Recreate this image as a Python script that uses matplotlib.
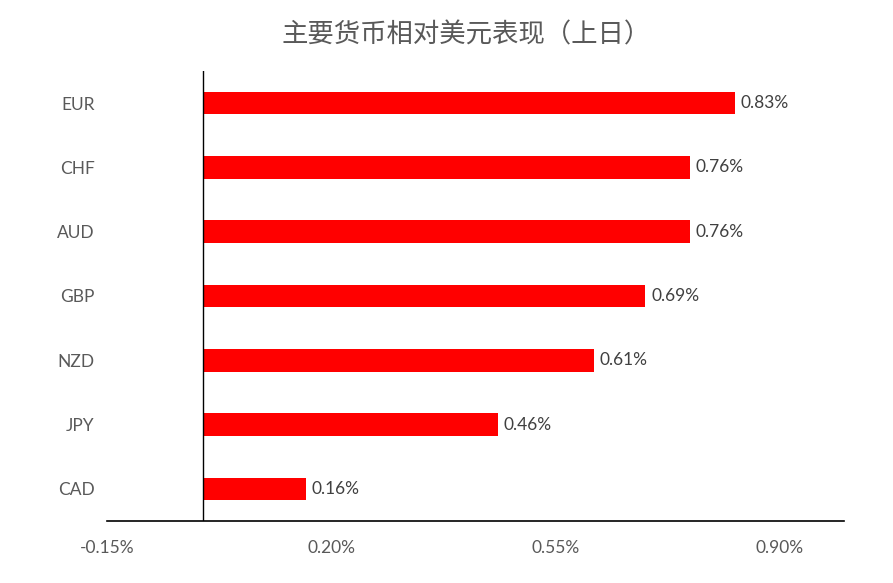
import matplotlib

matplotlib.use("Agg")
import matplotlib.pyplot as plt
from matplotlib.ticker import FuncFormatter

plt.rcParams["font.family"] = ["Lato", "Noto Sans CJK SC", "DejaVu Sans"]

# 数据（上日，相对美元涨跌幅 %）
currencies = ["EUR", "CHF", "AUD", "GBP", "NZD", "JPY", "CAD"]
changes = [0.83, 0.76, 0.76, 0.69, 0.61, 0.46, 0.16]
x_ticks = [-0.15, 0.20, 0.55, 0.90]
title = "主要货币相对美元表现（上日）"

GRAY = "#595959"

fig = plt.figure(figsize=(8.93, 5.83), dpi=100)
ax = fig.add_axes([107 / 893, 1 - 521 / 583, (844 - 107) / 893, (521 - 71) / 583])

y = list(range(len(currencies)))
ax.barh(y, changes, height=0.35, color="#FF0000")
for yi, v in zip(y, changes):
    ax.text(v + 0.009, yi, f"{v:.2f}%", va="center", ha="left",
            fontsize=12.5, color="#404040")

ax.set_ylim(len(currencies) - 0.5, -0.5)
ax.set_xlim(-0.15, 1.0)
ax.set_xticks(x_ticks)
ax.xaxis.set_major_formatter(FuncFormatter(lambda v, _: f"{v:.2f}%"))
ax.set_yticks(y)
ax.set_yticklabels(currencies)
ax.tick_params(axis="both", length=0, labelsize=12.5, colors=GRAY)
ax.tick_params(axis="y", pad=9)
ax.tick_params(axis="x", pad=14)

for s in ["top", "right", "left"]:
    ax.spines[s].set_visible(False)
ax.spines["bottom"].set_color("black")
ax.spines["bottom"].set_linewidth(1.2)
ax.axvline(0, color="black", lw=1)

fig.text(466 / 893, 1 - 35 / 583, title, ha="center", va="center", fontsize=19,
         color=GRAY, weight="light", family=["Noto Sans CJK SC", "DejaVu Sans"])

fig.savefig("out.png", dpi=100)
